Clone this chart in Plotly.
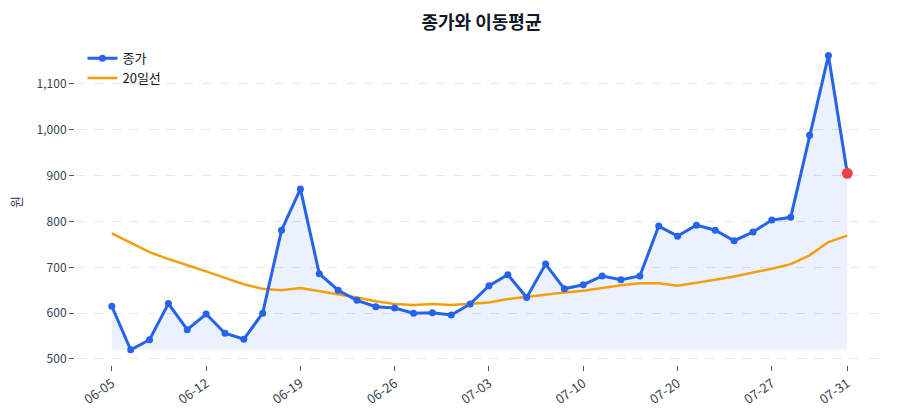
import plotly.graph_objects as go

# data
dates = ["06-05", "06-06", "06-07", "06-08", "06-09",
         "06-12", "06-13", "06-14", "06-15", "06-16",
         "06-19", "06-20", "06-21", "06-22", "06-23",
         "06-26", "06-27", "06-28", "06-29", "06-30",
         "07-03", "07-04", "07-05", "07-06", "07-07",
         "07-10", "07-11", "07-12", "07-13", "07-14",
         "07-20", "07-21", "07-24", "07-25", "07-26",
         "07-27", "07-28", "07-29", "07-30", "07-31"]

close = [615, 520, 542, 621, 564, 598, 556, 543, 600, 781,
         871, 686, 650, 628, 614, 611, 600, 601, 596, 620,
         660, 684, 634, 707, 653, 662, 681, 673, 681, 790,
         768, 792, 781, 758, 777, 803, 809, 988, 1162, 905]

ma20 = [774, 753, 733, 718, 705, 691, 677, 663, 653, 650,
        655, 648, 642, 634, 626, 620, 618, 620, 618, 621,
        623, 631, 636, 641, 645, 649, 655, 661, 665, 665,
        660, 666, 673, 680, 688, 697, 707, 726, 755, 769]

tick_idx = [0, 5, 10, 15, 20, 25, 30, 35, 39]
tick_labels = [dates[i] for i in tick_idx]

BLUE = "#2563eb"
ORANGE = "#f59e0b"
RED = "#ef4444"
FONT = "Noto Sans CJK KR"

fig = go.Figure()

# shaded area between the close line and its minimum
base = [min(close)] * len(close)
fig.add_trace(go.Scatter(x=dates, y=base, mode="lines",
                         line=dict(width=0), showlegend=False, hoverinfo="skip"))
fig.add_trace(go.Scatter(x=dates, y=close, mode="lines",
                         line=dict(width=0.5, color="rgba(37,99,235,0.12)"),
                         fill="tonexty", fillcolor="rgba(37,99,235,0.085)",
                         showlegend=False, hoverinfo="skip"))

# close price (drawn above the moving average via zorder)
fig.add_trace(go.Scatter(x=dates, y=close, name="종가", mode="lines+markers",
                         line=dict(color=BLUE, width=3),
                         marker=dict(size=7, color=BLUE), zorder=2))

# moving average
fig.add_trace(go.Scatter(x=dates, y=ma20, name="20일선", mode="lines",
                         line=dict(color=ORANGE, width=2.5), zorder=1))

# highlight the last point
fig.add_trace(go.Scatter(x=[dates[-1]], y=[close[-1]], mode="markers",
                         marker=dict(size=11, color=RED),
                         showlegend=False, zorder=3))

fig.update_layout(
    width=900, height=420,
    margin=dict(l=76, r=15, t=40, b=54),
    paper_bgcolor="white", plot_bgcolor="white",
    font=dict(family=FONT, size=12, color="#374151"),
    title=dict(text="<b>종가와 이동평균</b>", x=0.535, xanchor="center",
               y=0.945, yanchor="middle",
               font=dict(family=FONT, size=18, color="#111827")),
    legend=dict(x=0.008, y=0.99, xanchor="left", yanchor="top",
                traceorder="normal",
                bgcolor="rgba(0,0,0,0)", font=dict(size=13, color="#111827")),
    showlegend=True,
)

fig.update_xaxes(
    type="category", range=[-1.9, 41],
    tickmode="array", tickvals=tick_labels, ticktext=tick_labels,
    tickangle=-35, tickfont=dict(size=13),
    ticks="outside", ticklen=5, tickcolor="#4b5563",
    showline=True, linecolor="#d1d5db", linewidth=2,
    showgrid=False, zeroline=False,
)

fig.update_yaxes(
    range=[489, 1196], tickvals=[500, 600, 700, 800, 900, 1000, 1100],
    tickformat=",", ticks="outside", ticklen=5, tickcolor="#4b5563",
    showline=True, linecolor="#d1d5db", linewidth=2,
    showgrid=True, gridcolor="#e5e7eb", griddash="dash", gridwidth=1,
    zeroline=False,
    title=dict(text="원", font=dict(size=13, color="#374151"), standoff=12),
)

fig.write_html("out.html", config={"displayModeBar": False},
               post_script="document.body.style.margin='0';")
